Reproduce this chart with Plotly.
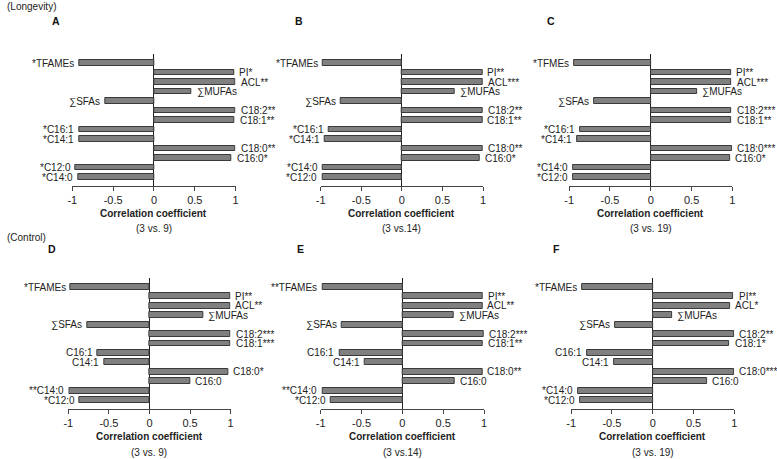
import plotly.graph_objects as go

W, H = 777, 459

# ---- data (top to bottom within each panel) ----
labels_A = ["*TFAMEs", "PI*", "ACL**", "∑MUFAs", "∑SFAs", "C18:2**", "C18:1**",
            "*C16:1", "*C14:1", "C18:0**", "C16:0*", "*C12:0", "*C14:0"]
values_A = [-0.92, 0.98, 1.0, 0.46, -0.60, 1.0, 0.99, -0.92, -0.92, 1.0, 0.95, -0.96, -0.93]

labels_B = ["*TFAMEs", "PI**", "ACL***", "∑MUFAs", "∑SFAs", "C18:2**", "C18:1**",
            "*C16:1", "*C14:1", "C18:0**", "C16:0*", "*C14:0", "*C12:0"]
values_B = [-0.97, 0.99, 1.0, 0.65, -0.75, 1.0, 0.99, -0.90, -0.95, 1.0, 0.96, -0.97, -0.98]

labels_C = ["*TFMEs", "PI**", "ACL***", "∑MUFAs", "∑SFAs", "C18:2***", "C18:1**",
            "*C16:1", "*C14:1", "C18:0***", "C16:0*", "*C14:0", "*C12:0"]
values_C = [-0.94, 0.98, 0.99, 0.57, -0.69, 0.99, 0.99, -0.87, -0.90, 1.0, 0.97, -0.95, -0.95]

labels_D = ["*TFAMEs", "PI**", "ACL**", "∑MUFAs", "∑SFAs", "C18:2***", "C18:1***",
            "C16:1", "C14:1", "C18:0*", "C16:0", "**C14:0", "*C12:0"]
values_D = [-0.97, 0.99, 0.99, 0.66, -0.77, 1.0, 1.0, -0.64, -0.56, 0.97, 0.50, -0.99, -0.86]

labels_E = ["**TFAMEs", "PI**", "ACL**", "∑MUFAs", "∑SFAs", "C18:2***", "C18:1**",
            "C16:1", "C14:1", "C18:0**", "C16:0", "**C14:0", "*C12:0"]
values_E = [-0.98, 0.99, 0.98, 0.63, -0.74, 1.0, 0.99, -0.77, -0.46, 0.98, 0.64, -0.98, -0.88]

labels_F = ["*TFAMEs", "PI**", "ACL*", "∑MUFAs", "∑SFAs", "C18:2**", "C18:1*",
            "C16:1", "C14:1", "C18:0***", "C16:0", "*C14:0", "*C12:0"]
values_F = [-0.87, 0.99, 0.95, 0.24, -0.46, 1.0, 0.94, -0.80, -0.47, 1.0, 0.67, -0.91, -0.89]

tick_vals = [-1, -0.5, 0, 0.5, 1]
tick_text = ["-1", "-0.5", "0", "0.5", "1"]
panel_letters = ["A", "B", "C", "D", "E", "F"]
comparisons = ["(3 vs. 9)", "(3 vs.14)", "(3 vs. 19)", "(3 vs. 9)", "(3 vs.14)", "(3 vs. 19)"]
group_titles = ["(Longevity)", "(Control)"]
x_title = "Correlation coefficient"

panels = [
    (labels_A, values_A), (labels_B, values_B), (labels_C, values_C),
    (labels_D, values_D), (labels_E, values_E), (labels_F, values_F),
]

# ---- layout geometry (pixels) ----
x_px = [(68, 233), (319, 483), (570, 735), (64, 228), (319, 484), (572, 737)]
y_px = [(54, 186), (54, 186), (54, 186), (278, 409), (278, 409), (278, 409)]
letter_px = [(52, 21), (297, 21), (552, 21), (47, 249), (299, 249), (557, 249)]

FONT = "Liberation Sans, Arial, sans-serif"
TXT = "#222222"

fig = go.Figure()
annotations = []
layout_axes = {}

for i, ((labels, values), (x0, x1), (y0, y1)) in enumerate(zip(panels, x_px, y_px)):
    n = i + 1
    xa = "x" if n == 1 else f"x{n}"
    ya = "y" if n == 1 else f"y{n}"
    pos = list(range(len(values)))
    fig.add_trace(go.Bar(
        x=values, y=pos, orientation="h", xaxis=xa, yaxis=ya,
        width=0.63, marker=dict(color="#808080", line=dict(color="#3a3a3a", width=1)),
        showlegend=False, hoverinfo="skip",
    ))
    layout_axes[f"xaxis{'' if n == 1 else n}"] = dict(
        domain=[x0 / W, x1 / W], anchor=ya, range=[-1, 1],
        tickvals=tick_vals, ticktext=tick_text, ticks="outside", ticklen=4,
        tickcolor="#444444", showline=True, linecolor="#444444", linewidth=1,
        showgrid=False, zeroline=True, zerolinecolor="#222222", zerolinewidth=1,
        tickfont=dict(family=FONT, size=11, color=TXT), fixedrange=True,
    )
    pad = 9.0 / ((y1 - y0 - 18) / 12.0)
    layout_axes[f"yaxis{'' if n == 1 else n}"] = dict(
        domain=[1 - y1 / H, 1 - y0 / H], anchor=xa, range=[11 + 1 + pad, -pad],
        showticklabels=False, showgrid=False, zeroline=False, showline=False,
        ticks="", fixedrange=True,
    )
    for lab, v, p in zip(labels, values, pos):
        annotations.append(dict(
            x=v, y=p, xref=xa, yref=ya, text=lab, showarrow=False,
            xanchor="left" if v >= 0 else "right", yanchor="middle",
            xshift=3 if v >= 0 else -3,
            font=dict(family=FONT, size=10, color=TXT),
        ))
    xc = (x0 + x1) / 2 / W
    annotations.append(dict(
        x=xc, y=1 - (y1 + 27) / H, xref="paper", yref="paper", text=f"<b>{x_title}</b>",
        showarrow=False, xanchor="center", yanchor="middle",
        font=dict(family=FONT, size=10, color=TXT),
    ))
    annotations.append(dict(
        x=xc, y=1 - (y1 + 43) / H, xref="paper", yref="paper", text=comparisons[i],
        showarrow=False, xanchor="center", yanchor="middle",
        font=dict(family=FONT, size=10, color=TXT),
    ))
    lx, ly = letter_px[i]
    annotations.append(dict(
        x=lx / W, y=1 - ly / H, xref="paper", yref="paper", text=f"<b>{panel_letters[i]}</b>",
        showarrow=False, xanchor="center", yanchor="middle",
        font=dict(family=FONT, size=10.5, color="#111111"),
    ))

annotations.append(dict(x=0, y=1 - 7 / H, xref="paper", yref="paper", text=group_titles[0],
                        showarrow=False, xanchor="left", yanchor="middle",
                        font=dict(family=FONT, size=10, color=TXT)))
annotations.append(dict(x=0, y=1 - 237 / H, xref="paper", yref="paper", text=group_titles[1],
                        showarrow=False, xanchor="left", yanchor="middle",
                        font=dict(family=FONT, size=10, color=TXT)))

fig.update_layout(
    width=W, height=H, margin=dict(l=0, r=0, t=0, b=0),
    paper_bgcolor="white", plot_bgcolor="white",
    bargap=0, annotations=annotations, **layout_axes,
)

fig.write_html(
    "out.html",
    config={"displayModeBar": False},
    post_script="document.body.style.margin='0';document.body.style.overflow='hidden';",
)
